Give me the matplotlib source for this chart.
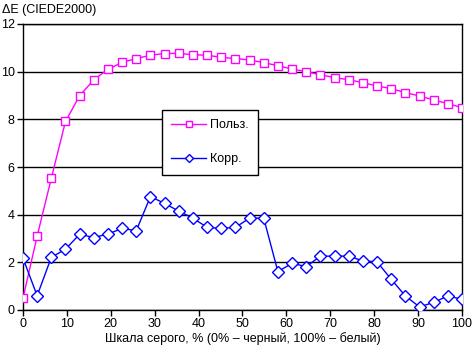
import numpy as np
import matplotlib.pyplot as plt

# ── данные ────────────────────────────────────────────────────────────────
gray_pct = np.linspace(0, 100, 32)

user_de = [0.5, 3.1, 5.53, 7.91, 8.99, 9.66, 10.1, 10.39, 10.55, 10.69, 10.76,
           10.77, 10.71, 10.69, 10.6, 10.55, 10.49, 10.38, 10.25, 10.11, 10.0,
           9.87, 9.75, 9.66, 9.54, 9.4, 9.29, 9.12, 8.98, 8.81, 8.66, 8.49]

corr_de = [2.17, 0.6, 2.21, 2.55, 3.18, 3.04, 3.19, 3.42, 3.33, 4.76, 4.47,
           4.15, 3.85, 3.47, 3.42, 3.47, 3.85, 3.85, 1.61, 1.96, 1.82, 2.26,
           2.26, 2.26, 2.06, 2.02, 1.29, 0.59, 0.13, 0.32, 0.59, 0.45]

x_ticks = [0, 10, 20, 30, 40, 50, 60, 70, 80, 90, 100]
y_ticks = [0, 2, 4, 6, 8, 10, 12]

plt.rcParams.update({
    "font.family": ["Liberation Sans", "DejaVu Sans"],
    "font.size": 9,
})

fig = plt.figure(figsize=(4.72, 3.53), dpi=100)
ax = fig.add_axes([23 / 472, 1 - 310 / 353, 439 / 472, 286 / 353])

ax.plot(gray_pct, user_de, color="#FF00FF", lw=1, marker="s", ms=5.5,
        mfc="white", mec="#FF00FF", mew=1, label="Польз.", zorder=3)
ax.plot(gray_pct, corr_de, color="#0000FF", lw=1, marker="D", ms=6,
        mfc="white", mec="#0000FF", mew=1, label="Корр.", zorder=3)

ax.set_xlim(0, 100)
ax.set_ylim(0, 12)
ax.set_xticks(x_ticks)
ax.set_yticks(y_ticks)
ax.tick_params(direction="out", length=4, width=1, color="black", pad=2)
ax.yaxis.grid(True, color="black", lw=1)
ax.set_axisbelow(True)
for s in ax.spines.values():
    s.set_color("black")
    s.set_linewidth(1)

ax.set_xlabel("Шкала серого, % (0% – черный, 100% – белый)", labelpad=1)
fig.text(2 / 472, 1 - 10 / 353, "ΔE (CIEDE2000)", ha="left", va="center")

leg = ax.legend(loc="upper left", bbox_to_anchor=((162 - 23) / 439, (310 - 110) / 286),
                fancybox=False, framealpha=1, edgecolor="black", markerscale=0.7,
                borderpad=0.75, labelspacing=1.75, handlelength=2.8, handletextpad=0.3,
                borderaxespad=0)
leg.get_frame().set_linewidth(1)
leg.set_zorder(5)

fig.savefig("out.png", dpi=100)
